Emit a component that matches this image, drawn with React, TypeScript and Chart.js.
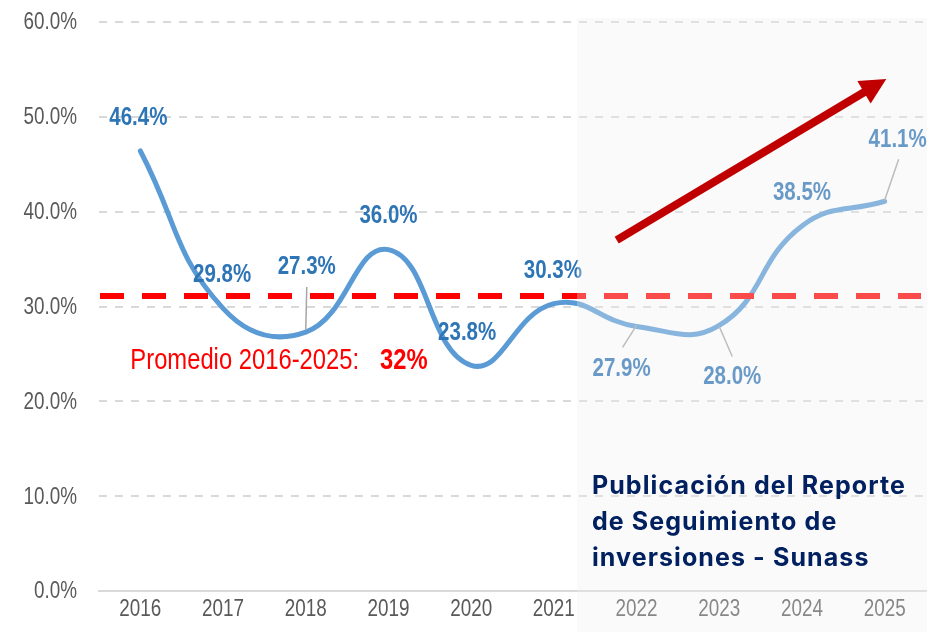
import React, { useEffect, useRef } from 'react';
import { Chart, registerables } from 'chart.js';

Chart.register(...registerables);

// ---------- data ----------
const years = ['2016', '2017', '2018', '2019', '2020', '2021', '2022', '2023', '2024', '2025'];
const values = [46.4, 29.8, 27.3, 36.0, 23.8, 30.3, 27.9, 28.0, 38.5, 41.1];
const valueLabels = ['46.4%', '29.8%', '27.3%', '36.0%', '23.8%', '30.3%', '27.9%', '28.0%', '38.5%', '41.1%'];
const yTicks = [0, 10, 20, 30, 40, 50, 60];
const yTickLabels = ['0.0%', '10.0%', '20.0%', '30.0%', '40.0%', '50.0%', '60.0%'];
const averageValue = 31.1;
const averageText = 'Promedio 2016-2025:';
const averageBold = '32%';
const noteLines = ['Publicación del Reporte', 'de Seguimiento de', 'inversiones - Sunass'];

// ---------- styles / placement ----------
const SANS = '"Liberation Sans", Arial, sans-serif';
const NARROW_SCALE = 0.82;
const NOTE_FONT = 'Inter, "Open Sans", sans-serif';
// label offsets from each point [dx, dy]
const labelOffsets = [
  [-2, -33], [-1, -33], [1, -65], [0, -33], [-4, -32],
  [-1, -33], [-15, 43], [13, 52], [0, -33], [13, -61],
];
// leader lines [x1,y1,x2,y2] relative to point, or null
const leaders: (number[] | null)[] = [
  null, null, [0, -2, 1, -45], null, null,
  null, [0, -1, -14, 21], [0, 1, 13, 31], null, [0, -1, 14, -42],
];

function narrowText(ctx: CanvasRenderingContext2D, text: string, x: number, y: number, font: string, color: string, align: CanvasTextAlign) {
  ctx.save();
  ctx.translate(x, y);
  ctx.scale(NARROW_SCALE, 1);
  ctx.font = font;
  ctx.fillStyle = color;
  ctx.textAlign = align;
  ctx.textBaseline = 'middle';
  ctx.fillText(text, 0, 0);
  ctx.restore();
}

function narrowWidth(ctx: CanvasRenderingContext2D, text: string, font: string) {
  ctx.save();
  ctx.font = font;
  const w = ctx.measureText(text).width * NARROW_SCALE;
  ctx.restore();
  return w;
}

const decorPlugin = {
  id: 'decor',
  afterDatasetsDraw(chart: any) {
    const { ctx, chartArea, scales } = chart;
    const x = scales.x;
    const y = scales.y;
    ctx.save();

    // axis tick labels
    const tickFont = `23px ${SANS}`;
    yTicks.forEach((v, i) => {
      narrowText(ctx, yTickLabels[i], chartArea.left - 22, y.getPixelForValue(v) + 1, tickFont, '#595959', 'right');
    });
    years.forEach((t, i) => {
      narrowText(ctx, t, x.getPixelForValue(i), chartArea.bottom + 19, tickFont, '#595959', 'center');
    });

    // average dashed line
    const yAvg = y.getPixelForValue(averageValue);
    ctx.strokeStyle = '#FF0000';
    ctx.lineWidth = 6;
    ctx.setLineDash([24, 18]);
    ctx.beginPath();
    ctx.moveTo(chartArea.left + 1, yAvg);
    ctx.lineTo(chartArea.right - 5, yAvg);
    ctx.stroke();
    ctx.setLineDash([]);

    // leaders
    ctx.strokeStyle = '#A6A6A6';
    ctx.lineWidth = 1.5;
    values.forEach((v, i) => {
      const l = leaders[i];
      if (!l) return;
      const px = x.getPixelForValue(i);
      const py = y.getPixelForValue(v);
      ctx.beginPath();
      ctx.moveTo(px + l[0], py + l[1]);
      ctx.lineTo(px + l[2], py + l[3]);
      ctx.stroke();
    });

    // data labels
    const labelFont = `bold 25px ${SANS}`;
    values.forEach((v, i) => {
      const px = x.getPixelForValue(i);
      const py = y.getPixelForValue(v);
      narrowText(ctx, valueLabels[i], px + labelOffsets[i][0], py + labelOffsets[i][1], labelFont, '#2E75B6', 'center');
    });

    // average text
    const avgFont = `29px ${SANS}`;
    const avgBoldFont = `bold 29px ${SANS}`;
    const ax = x.getPixelForValue(0) - 10;
    const ay = y.getPixelForValue(24.3);
    narrowText(ctx, averageText, ax, ay, avgFont, '#FF0000', 'left');
    const w = narrowWidth(ctx, averageText, avgFont);
    narrowText(ctx, averageBold, ax + w + 21, ay, avgBoldFont, '#FF0000', 'left');

    // shaded projection region
    const sx = x.getPixelForValue(5.28);
    ctx.fillStyle = 'rgba(239,239,239,0.31)';
    ctx.fillRect(sx, chartArea.top - 4, chartArea.right + 1 - sx, chart.height - chartArea.top + 4);

    // arrow
    const x0 = x.getPixelForValue(5.76);
    const y0 = y.getPixelForValue(37.0);
    const x1 = x.getPixelForValue(9.02);
    const y1 = y.getPixelForValue(54.0);
    const dx = x1 - x0;
    const dy = y1 - y0;
    const len = Math.hypot(dx, dy);
    const ux = dx / len;
    const uy = dy / len;
    const headLen = 26;
    const headHalf = 13;
    const bx = x1 - ux * headLen;
    const by = y1 - uy * headLen;
    ctx.strokeStyle = '#C00000';
    ctx.fillStyle = '#C00000';
    ctx.lineWidth = 8;
    ctx.lineCap = 'butt';
    ctx.beginPath();
    ctx.moveTo(x0, y0);
    ctx.lineTo(bx + ux * 2, by + uy * 2);
    ctx.stroke();
    ctx.beginPath();
    ctx.moveTo(x1, y1);
    ctx.lineTo(bx - uy * headHalf, by + ux * headHalf);
    ctx.lineTo(bx + uy * headHalf, by - ux * headHalf);
    ctx.closePath();
    ctx.fill();

    // note text
    ctx.fillStyle = '#002060';
    ctx.font = `bold 25px ${NOTE_FONT}`;
    (ctx as any).letterSpacing = '1.1px';
    ctx.textAlign = 'left';
    ctx.textBaseline = 'alphabetic';
    const nx = x.getPixelForValue(5.46);
    const ny = y.getPixelForValue(10.2);
    noteLines.forEach((t, i) => ctx.fillText(t, nx, ny + i * 36));
    (ctx as any).letterSpacing = '0px';

    ctx.restore();
  },
};

export default function App() {
  const ref = useRef<HTMLCanvasElement>(null);
  useEffect(() => {
    if (!ref.current) return;
    const chart = new Chart(ref.current, {
      type: 'line',
      data: {
        labels: years,
        datasets: [
          {
            data: values,
            borderColor: '#5B9BD5',
            borderWidth: 5,
            tension: 0.45,
            pointRadius: 0,
            fill: false,
            borderCapStyle: 'round',
            clip: false,
          } as any,
        ],
      },
      options: {
        animation: false,
        responsive: false,
        layout: { padding: { top: 22, right: 7, left: 0, bottom: 0 } },
        plugins: { legend: { display: false }, tooltip: { enabled: false } },
        scales: {
          x: {
            offset: true,
            grid: { display: false, drawTicks: false },
            border: { display: true, color: '#D9D9D9', width: 2 },
            ticks: { display: false },
            afterFit: (s: any) => { s.height = 41; },
          },
          y: {
            min: 0,
            max: 60,
            grid: { color: '#D9D9D9', lineWidth: 2, drawTicks: false },
            border: { display: false, dash: [8, 8] },
            ticks: { display: false },
            afterBuildTicks: (s: any) => { s.ticks = yTicks.map((v) => ({ value: v })); },
            afterFit: (s: any) => { s.width = 99; },
          },
        },
      } as any,
      plugins: [decorPlugin],
    });
    return () => chart.destroy();
  }, []);
  return (
    <div style={{ position: 'absolute', left: 0, top: 0, width: 933, height: 632, background: '#fff' }}>
      <canvas ref={ref} width={933} height={632} />
    </div>
  );
}
